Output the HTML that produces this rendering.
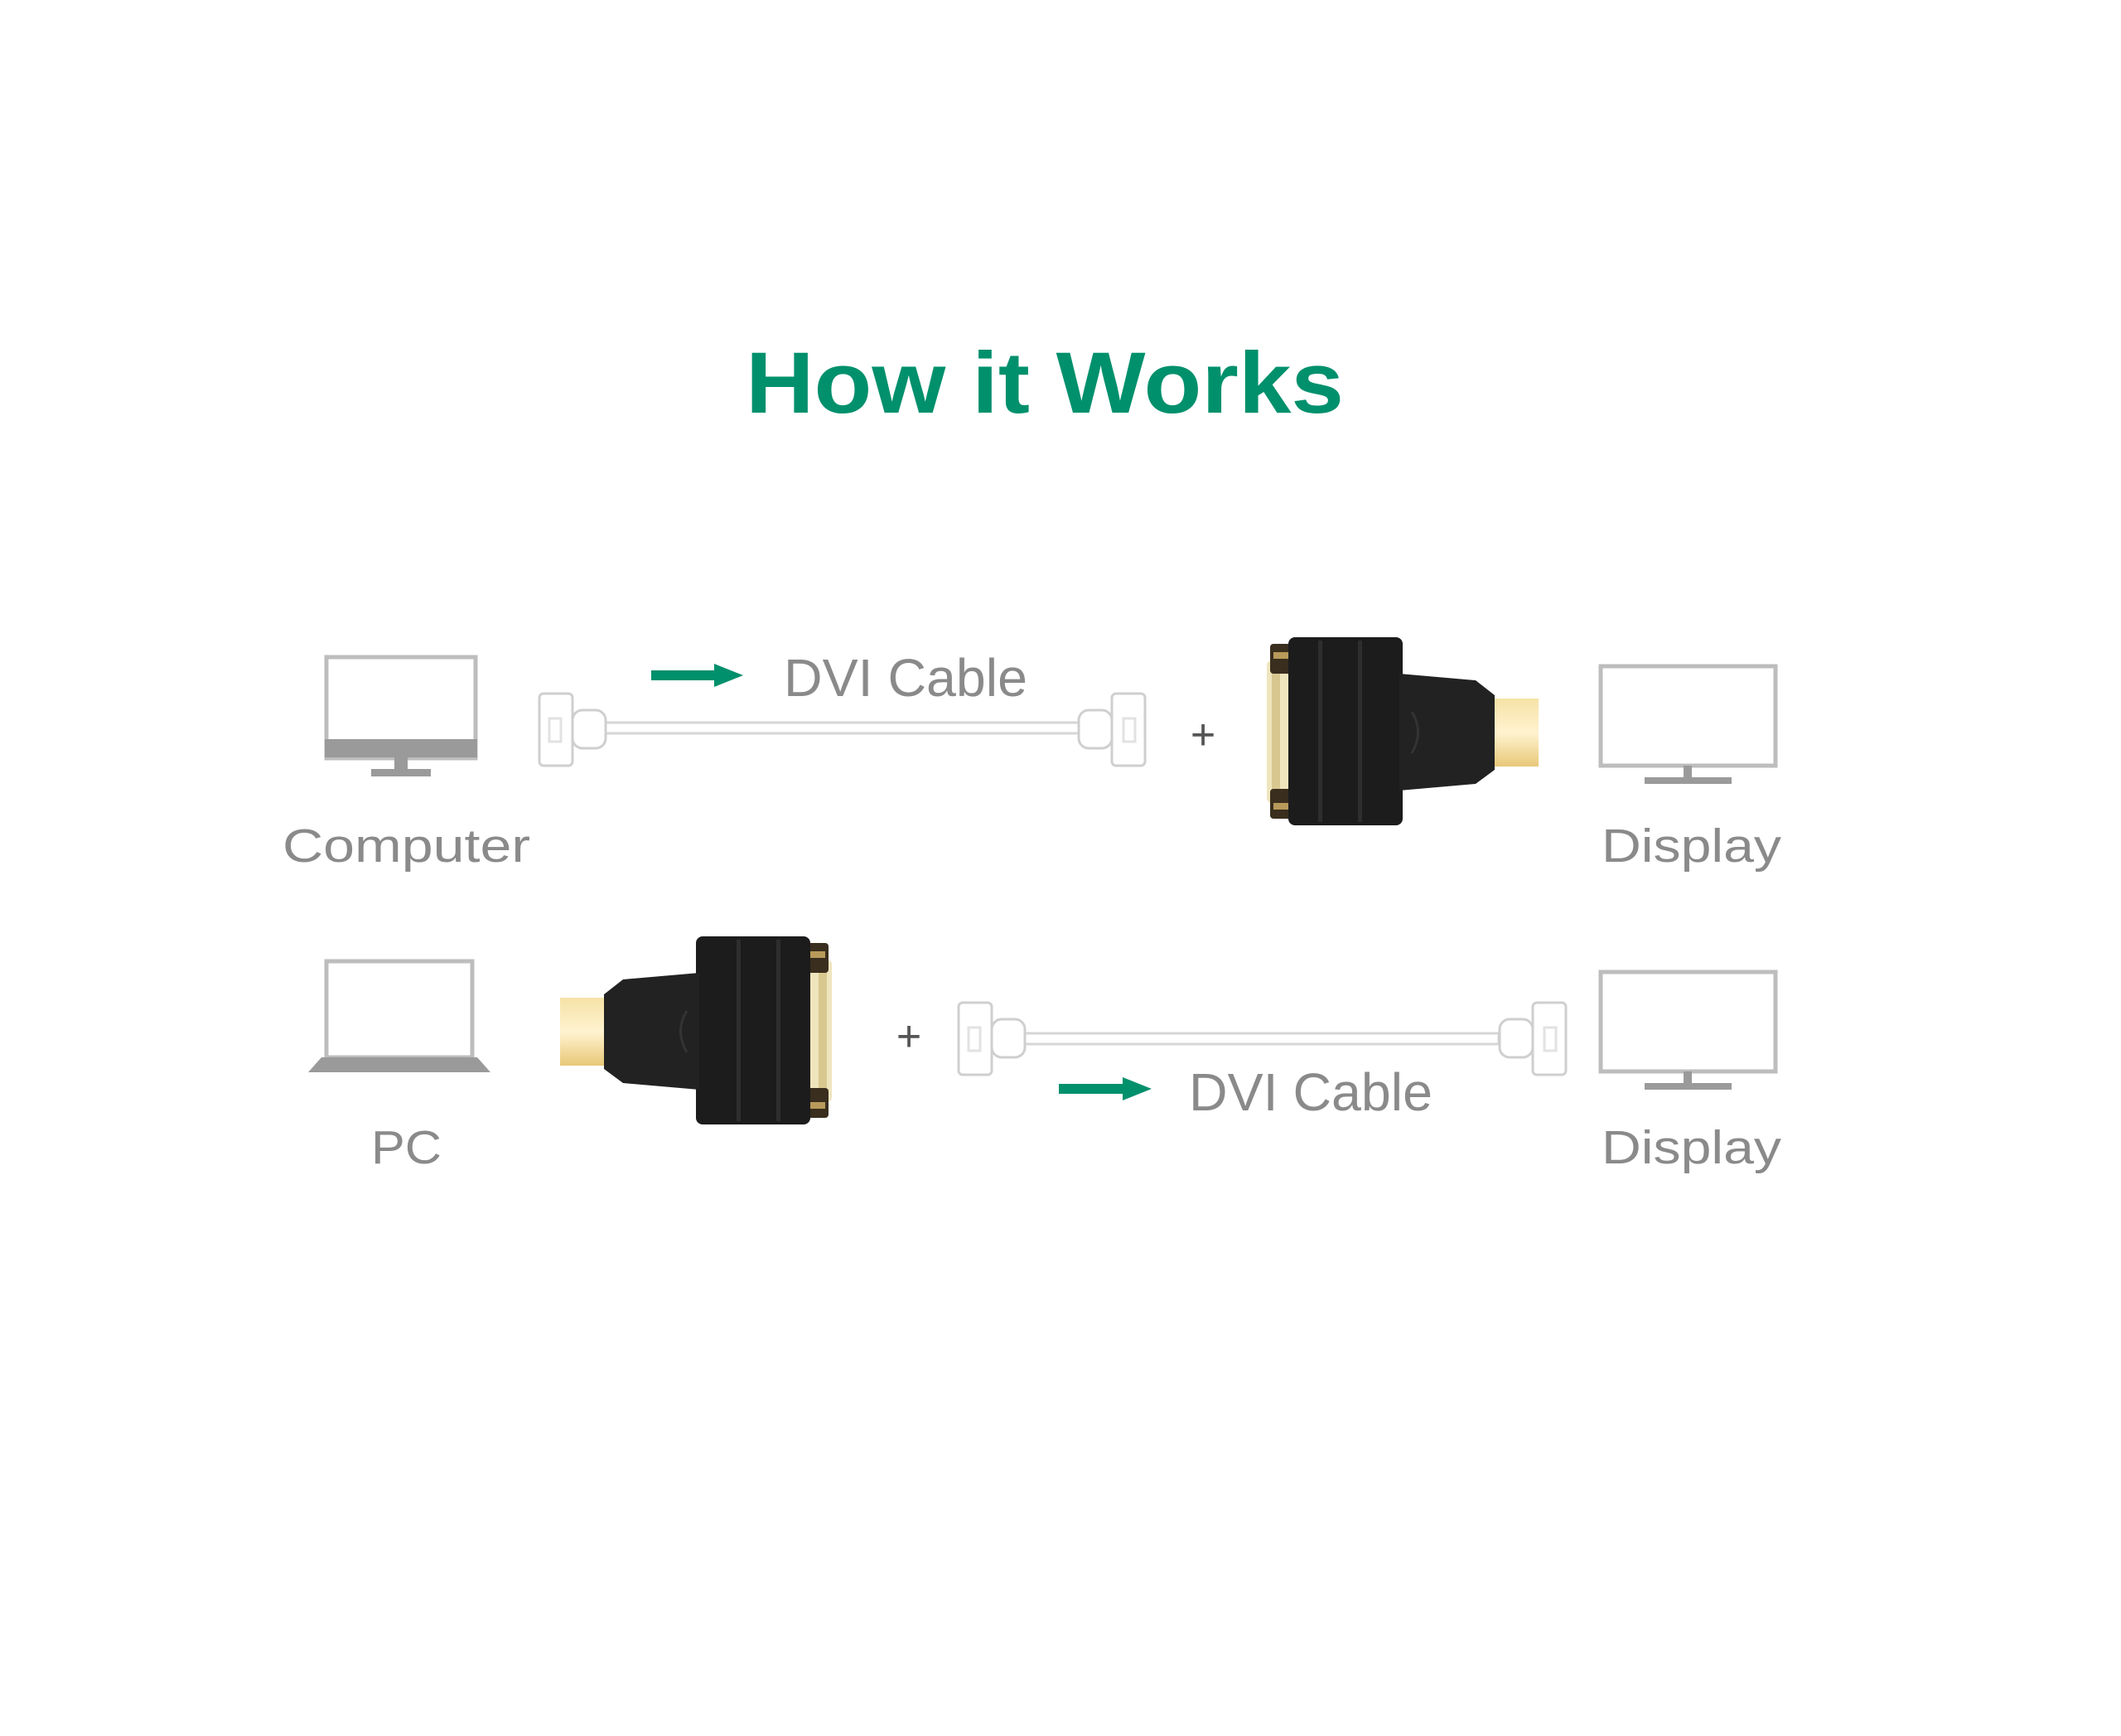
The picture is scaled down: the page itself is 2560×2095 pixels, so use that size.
<!DOCTYPE html>
<html><head><meta charset="utf-8"><style>html,body{margin:0;padding:0;background:#fff}svg{display:block}</style></head>
<body>
<svg width="2560" height="2095" viewBox="0 0 2560 2095" xmlns="http://www.w3.org/2000/svg" font-family="Liberation Sans, sans-serif">
<defs>
<linearGradient id="gold" x1="0" y1="0" x2="0" y2="1"><stop offset="0" stop-color="#f6e2a6"/><stop offset="0.5" stop-color="#fff3cf"/><stop offset="1" stop-color="#e8c878"/></linearGradient>
<g id="adapter">
  <rect x="0" y="28" width="55" height="172" rx="6" fill="#efe5bd"/>
  <rect x="6" y="40" width="10" height="148" fill="#d8c890"/>
  <rect x="4" y="8" width="26" height="36" rx="4" fill="#3a2e1e"/>
  <rect x="4" y="183" width="26" height="36" rx="4" fill="#3a2e1e"/>
  <rect x="8" y="18" width="18" height="8" fill="#b89a5a"/>
  <rect x="8" y="200" width="18" height="8" fill="#b89a5a"/>
  <rect x="26" y="0" width="138" height="227" rx="8" fill="#1c1c1c"/>
  <rect x="62" y="4" width="5" height="219" fill="#2e2e2e"/>
  <rect x="110" y="4" width="5" height="219" fill="#2e2e2e"/>
  <polygon points="160,44 252,52 275,70 275,160 252,177 160,185" fill="#222"/>
  <path d="M175 90 Q190 114 175 140" stroke="#333" stroke-width="3" fill="none"/>
  <rect x="275" y="74" width="53" height="82" fill="url(#gold)"/>
</g>
<g id="cable" fill="#fff" stroke="#cfcfcf" stroke-width="3">
  <rect x="0" y="0" width="40" height="87" rx="5"/>
  <rect x="40" y="20" width="40" height="46" rx="12"/>
  <rect x="12" y="30" width="14" height="28" fill="none" stroke="#e2e2e2"/>
</g>
</defs>

<text x="900" y="498" font-size="105" font-weight="bold" fill="#00906c" textLength="722" lengthAdjust="spacingAndGlyphs">How it Works</text>

<rect x="394" y="793" width="180" height="122" fill="#fff" stroke="#bdbdbd" stroke-width="5"/>
<rect x="392" y="892" width="184" height="22" fill="#9a9a9a"/>
<rect x="476" y="914" width="16" height="16" fill="#9a9a9a"/>
<rect x="448" y="928" width="72" height="9" fill="#9a9a9a"/>
<text x="341" y="1040" font-size="57" fill="#8a8a8a" textLength="299" lengthAdjust="spacingAndGlyphs">Computer</text>

<rect x="730" y="872" width="575" height="13" fill="#fff" stroke="#d6d6d6" stroke-width="3"/>
<use href="#cable" transform="translate(651,837)"/>
<use href="#cable" transform="translate(1382,837) scale(-1,1)"/>
<rect x="786" y="809" width="80" height="12" fill="#00906c"/>
<polygon points="862,801 897,815 862,829" fill="#00906c"/>
<text x="946" y="840" font-size="64" fill="#8a8a8a" textLength="294" lengthAdjust="spacingAndGlyphs">DVI Cable</text>
<text x="1452" y="904" font-size="52" fill="#555" text-anchor="middle">+</text>

<use href="#adapter" transform="translate(1529,769)"/>

<rect x="1932" y="804" width="211" height="120" fill="#fff" stroke="#bdbdbd" stroke-width="5"/>
<rect x="2032" y="924" width="10" height="16" fill="#9a9a9a"/>
<rect x="1985" y="938" width="105" height="8" fill="#9a9a9a"/>
<text x="1933" y="1040" font-size="57" fill="#8a8a8a" textLength="217" lengthAdjust="spacingAndGlyphs">Display</text>

<rect x="394" y="1160" width="176" height="116" fill="#fff" stroke="#bdbdbd" stroke-width="5"/>
<polygon points="388,1276 576,1276 592,1294 372,1294" fill="#9a9a9a"/>
<text x="448" y="1404" font-size="57" fill="#8a8a8a" textLength="85" lengthAdjust="spacingAndGlyphs">PC</text>

<use href="#adapter" transform="translate(1004,1130) scale(-1,1)"/>
<text x="1097" y="1268" font-size="52" fill="#555" text-anchor="middle">+</text>

<rect x="1237" y="1247" width="572" height="13" fill="#fff" stroke="#d6d6d6" stroke-width="3"/>
<use href="#cable" transform="translate(1157,1210)"/>
<use href="#cable" transform="translate(1890,1210) scale(-1,1)"/>
<rect x="1278" y="1308" width="80" height="12" fill="#00906c"/>
<polygon points="1355,1300 1390,1314 1355,1328" fill="#00906c"/>
<text x="1435" y="1340" font-size="64" fill="#8a8a8a" textLength="294" lengthAdjust="spacingAndGlyphs">DVI Cable</text>

<rect x="1932" y="1173" width="211" height="120" fill="#fff" stroke="#bdbdbd" stroke-width="5"/>
<rect x="2032" y="1293" width="10" height="16" fill="#9a9a9a"/>
<rect x="1985" y="1307" width="105" height="8" fill="#9a9a9a"/>
<text x="1933" y="1404" font-size="57" fill="#8a8a8a" textLength="217" lengthAdjust="spacingAndGlyphs">Display</text>
</svg>
</body></html>
